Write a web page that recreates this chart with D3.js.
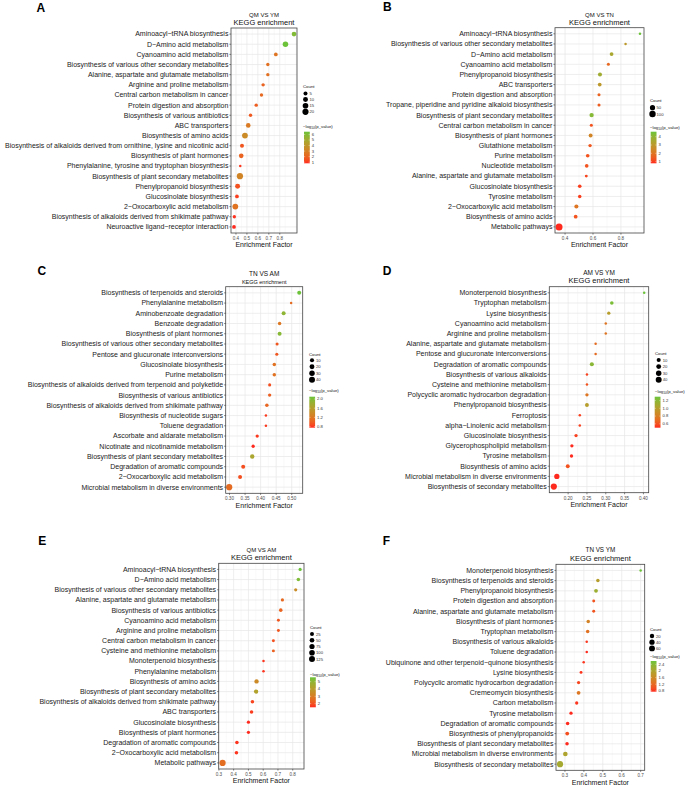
<!DOCTYPE html>
<html><head><meta charset="utf-8">
<script src="https://cdn.jsdelivr.net/npm/d3@7"></script>
<style>body{margin:0;background:#fff;} svg{display:block;font-family:"Liberation Sans",Arial,sans-serif;}</style>
</head><body><svg id="c" width="692" height="788"></svg>
<script>
// ---------------- DATA ----------------
const A_title = "QM VS YM";
const A_pathways = ["Aminoacyl−tRNA biosynthesis","D−Amino acid metabolism","Cyanoamino acid metabolism","Biosynthesis of various other secondary metabolites","Alanine, aspartate and glutamate metabolism","Arginine and proline metabolism","Central carbon metabolism in cancer","Protein digestion and absorption","Biosynthesis of various antibiotics","ABC transporters","Biosynthesis of amino acids","Biosynthesis of alkaloids derived from ornithine, lysine and nicotinic acid","Biosynthesis of plant hormones","Phenylalanine, tyrosine and tryptophan biosynthesis","Biosynthesis of plant secondary metabolites","Phenylpropanoid biosynthesis","Glucosinolate biosynthesis","2−Oxocarboxylic acid metabolism","Biosynthesis of alkaloids derived from shikimate pathway","Neuroactive ligand−receptor interaction"];
const A_factor = [0.930,0.852,0.764,0.691,0.691,0.648,0.633,0.585,0.533,0.512,0.482,0.455,0.448,0.439,0.436,0.415,0.409,0.394,0.385,0.382];
const A_count = [8,14,4,3,3,3,3,3,3,8,16,5,8,2,20,10,4,16,3,4];
const A_logp = [6.0,6.5,2.6,2.4,2.4,2.0,2.2,1.8,1.7,2.8,3.5,1.6,2.0,1.0,3.2,1.5,1.1,2.5,0.9,0.8];
const A_xTicks = [0.4,0.5,0.6,0.7,0.8];
const A_countBreaks = [5,10,15,20];
const A_colorBreaks = [1,2,3,4,5,6];

const B_title = "QM VS TN";
const B_pathways = ["Aminoacyl−tRNA biosynthesis","Biosynthesis of various other secondary metabolites","D−Amino acid metabolism","Cyanoamino acid metabolism","Phenylpropanoid biosynthesis","ABC transporters","Protein digestion and absorption","Tropane, piperidine and pyridine alkaloid biosynthesis","Biosynthesis of plant secondary metabolites","Central carbon metabolism in cancer","Biosynthesis of plant hormones","Glutathione metabolism","Purine metabolism","Nucleotide metabolism","Alanine, aspartate and glutamate metabolism","Glucosinolate biosynthesis","Tyrosine metabolism","2−Oxocarboxylic acid metabolism","Biosynthesis of amino acids","Metabolic pathways"];
const B_factor = [0.936,0.833,0.733,0.710,0.650,0.648,0.643,0.643,0.590,0.588,0.583,0.579,0.562,0.555,0.552,0.505,0.505,0.481,0.476,0.357];
const B_count = [4,4,14,6,19,14,6,6,25,6,16,9,12,12,5,12,10,19,14,130];
const B_logp = [4.6,3.0,3.5,1.7,3.7,3.0,1.6,1.5,4.2,1.3,2.4,1.4,1.3,1.3,1.1,1.0,1.0,2.0,1.3,0.8];
const B_xTicks = [0.4,0.6,0.8];
const B_countBreaks = [50,100];
const B_colorBreaks = [1,2,3,4];

const C_title = "TN VS AM";
const C_pathways = ["Biosynthesis of terpenoids and steroids","Phenylalanine metabolism","Aminobenzoate degradation","Benzoate degradation","Biosynthesis of plant hormones","Biosynthesis of various other secondary metabolites","Pentose and glucuronate interconversions","Glucosinolate biosynthesis","Purine metabolism","Biosynthesis of alkaloids derived from terpenoid and polyketide","Biosynthesis of various antibiotics","Biosynthesis of alkaloids derived from shikimate pathway","Biosynthesis of nucleotide sugars","Toluene degradation","Ascorbate and aldarate metabolism","Nicotinate and nicotinamide metabolism","Biosynthesis of plant secondary metabolites","Degradation of aromatic compounds","2−Oxocarboxylic acid metabolism","Microbial metabolism in diverse environments"];
const C_factor = [0.524,0.498,0.474,0.461,0.461,0.453,0.452,0.444,0.444,0.429,0.429,0.420,0.417,0.417,0.389,0.376,0.373,0.344,0.334,0.299];
const C_count = [9,2,9,5,9,3,3,5,5,3,4,5,2,2,4,4,13,9,9,45];
const C_logp = [2.1,1.1,1.9,1.2,1.95,0.95,0.95,1.15,1.15,0.9,1.0,1.05,0.8,0.8,0.8,0.75,1.7,0.9,0.9,1.1];
const C_xTicks = [0.30,0.35,0.40,0.45,0.50];
const C_countBreaks = [10,20,30,40];
const C_colorBreaks = [0.8,1.2,1.6,2.0];

const D_title = "AM VS YM";
const D_pathways = ["Monoterpenoid biosynthesis","Tryptophan metabolism","Lysine biosynthesis","Cyanoamino acid metabolism","Arginine and proline metabolism","Alanine, aspartate and glutamate metabolism","Pentose and glucuronate interconversions","Degradation of aromatic compounds","Biosynthesis of various alkaloids","Cysteine and methionine metabolism","Polycyclic aromatic hydrocarbon degradation","Phenylpropanoid biosynthesis","Ferroptosis","alpha−Linolenic acid metabolism","Glucosinolate biosynthesis","Glycerophospholipid metabolism","Tyrosine metabolism","Biosynthesis of amino acids","Microbial metabolism in diverse environments","Biosynthesis of secondary metabolites"];
const D_factor = [0.402,0.316,0.308,0.300,0.300,0.273,0.273,0.263,0.250,0.250,0.250,0.250,0.231,0.231,0.221,0.210,0.209,0.199,0.170,0.162];
const D_count = [2,6,4,2,2,2,2,10,2,2,4,8,2,2,4,4,4,8,26,45];
const D_logp = [1.3,1.25,1.0,0.75,0.75,0.7,0.7,1.2,0.55,0.6,0.75,1.0,0.55,0.55,0.55,0.5,0.5,0.6,0.5,0.5];
const D_xTicks = [0.20,0.25,0.30,0.35,0.40];
const D_countBreaks = [10,20,30,40];
const D_colorBreaks = [0.6,0.8,1.0,1.2];

const E_title = "QM VS AM";
const E_pathways = ["Aminoacyl−tRNA biosynthesis","D−Amino acid metabolism","Biosynthesis of various other secondary metabolites","Alanine, aspartate and glutamate metabolism","Biosynthesis of various antibiotics","Cyanoamino acid metabolism","Arginine and proline metabolism","Central carbon metabolism in cancer","Cysteine and methionine metabolism","Monoterpenoid biosynthesis","Phenylalanine metabolism","Biosynthesis of amino acids","Biosynthesis of plant secondary metabolites","Biosynthesis of alkaloids derived from shikimate pathway","ABC transporters","Glucosinolate biosynthesis","Biosynthesis of plant hormones","Degradation of aromatic compounds","2−Oxocarboxylic acid metabolism","Metabolic pathways"];
const E_factor = [0.850,0.838,0.820,0.730,0.719,0.703,0.703,0.669,0.669,0.602,0.602,0.555,0.552,0.527,0.521,0.500,0.500,0.422,0.419,0.325];
const E_count = [8,14,8,8,14,5,5,5,5,3,3,37,37,14,14,8,8,14,14,140];
const E_logp = [5.6,5.3,3.5,2.5,2.4,2.1,2.1,2.0,2.3,1.6,1.6,3.4,4.2,1.8,1.7,1.5,1.5,1.6,1.6,2.6];
const E_xTicks = [0.3,0.4,0.5,0.6,0.7,0.8];
const E_countBreaks = [25,50,75,100,125];
const E_colorBreaks = [2,3,4,5];

const F_title = "TN VS YM";
const F_pathways = ["Monoterpenoid biosynthesis","Biosynthesis of terpenoids and steroids","Phenylpropanoid biosynthesis","Protein digestion and absorption","Alanine, aspartate and glutamate metabolism","Biosynthesis of plant hormones","Tryptophan metabolism","Biosynthesis of various alkaloids","Toluene degradation","Ubiquinone and other terpenoid−quinone biosynthesis","Lysine biosynthesis","Polycyclic aromatic hydrocarbon degradation","Cremeomycin biosynthesis","Carbon metabolism","Tyrosine metabolism","Degradation of aromatic compounds","Biosynthesis of phenylpropanoids","Biosynthesis of plant secondary metabolites","Microbial metabolism in diverse environments","Biosynthesis of secondary metabolites"];
const F_factor = [0.700,0.474,0.464,0.452,0.452,0.423,0.420,0.415,0.415,0.399,0.385,0.372,0.372,0.362,0.332,0.314,0.312,0.311,0.302,0.274];
const F_count = [2,7,10,3,3,7,7,2,2,2,3,5,10,5,5,7,10,7,24,70];
const F_logp = [2.6,1.9,2.2,1.0,1.0,1.5,1.3,0.8,0.75,0.8,0.8,0.9,1.35,0.8,0.75,0.75,0.95,0.75,2.0,2.1];
const F_xTicks = [0.3,0.4,0.5,0.6,0.7];
const F_countBreaks = [20,40,60];
const F_colorBreaks = [0.8,1.2,1.6,2.0,2.4];

// ---------------- DRAW ----------------
const LOW = "#FF2A1E", HIGH = "#6CC33A";
const svg = d3.select("#c");
svg.append("rect").attr("width",692).attr("height",788).attr("fill","#fff");

const panels = [
 {tag:"A", title:A_title, pathways:A_pathways, factor:A_factor, count:A_count, logp:A_logp, xTicks:A_xTicks, countBreaks:A_countBreaks, colorBreaks:A_colorBreaks, dec:1,
  L:{x0:231,x1:297,y0:28,y1:233, tagX:36.5,tagY:11.5, t1:16.5,t2:25, t1s:6,t2s:7.5, legX:303, cntY:87.5, dotX:305.5, dotY0:93.5, dotStep:6.1, cbTitleY:127.5, cbX:304, cbY0:131.7, cbY1:163.3}},
 {tag:"B", title:B_title, pathways:B_pathways, factor:B_factor, count:B_count, logp:B_logp, xTicks:B_xTicks, countBreaks:B_countBreaks, colorBreaks:B_colorBreaks, dec:1,
  L:{x0:555,x1:644,y0:27.7,y1:233, tagX:383,tagY:10.5, t1:16.5,t2:25, t1s:6,t2s:7.5, legX:650, cntY:102, dotX:652.5, dotY0:107.7, dotStep:6.3, cbTitleY:128.5, cbX:650.7, cbY0:131.7, cbY1:163.3, rmax:3.5}},
 {tag:"C", title:C_title, pathways:C_pathways, factor:C_factor, count:C_count, logp:C_logp, xTicks:C_xTicks, countBreaks:C_countBreaks, colorBreaks:C_colorBreaks, dec:2,
  L:{x0:225.7,x1:302.7,y0:286.7,y1:493.3, tagX:37.5,tagY:274.5, t1:276.3,t2:283.8, t1s:6.5,t2s:5.5, legX:309, cntY:355.8, dotX:312, dotY0:360.3, dotStep:6.45, cbTitleY:391.5, cbX:309.3, cbY0:396.7, cbY1:427.7}},
 {tag:"D", title:D_title, pathways:D_pathways, factor:D_factor, count:D_count, logp:D_logp, xTicks:D_xTicks, countBreaks:D_countBreaks, colorBreaks:D_colorBreaks, dec:2,
  L:{x0:549.3,x1:648.7,y0:286.7,y1:492.7, tagX:382.7,tagY:274.5, t1:274.5,t2:283.3, t1s:6.5,t2s:7.5, legX:655, cntY:355.3, dotX:658.7, dotY0:360, dotStep:6.6, cbTitleY:392.5, cbX:654.7, cbY0:396.7, cbY1:427.7}},
 {tag:"E", title:E_title, pathways:E_pathways, factor:E_factor, count:E_count, logp:E_logp, xTicks:E_xTicks, countBreaks:E_countBreaks, colorBreaks:E_colorBreaks, dec:1,
  L:{x0:218.7,x1:304,y0:563.3,y1:769, tagX:38.3,tagY:544.5, t1:551.6,t2:560, t1s:6,t2s:7.5, legX:310, cntY:629.2, dotX:312, dotY0:634, dotStep:6.25, cbTitleY:675.5, cbX:310, cbY0:677.3, cbY1:707.3}},
 {tag:"F", title:F_title, pathways:F_pathways, factor:F_factor, count:F_count, logp:F_logp, xTicks:F_xTicks, countBreaks:F_countBreaks, colorBreaks:F_colorBreaks, dec:1,
  L:{x0:556,x1:644.7,y0:564.3,y1:770.3, tagX:382.7,tagY:544.5, t1:552.3,t2:561.3, t1s:6.3,t2s:7.5, legX:650, cntY:630.5, dotX:652, dotY0:636, dotStep:6.2, cbTitleY:658.2, cbX:650.7, cbY0:661, cbY1:691.7}}
];

function drawPanel(P){
  const L = P.L;
  const g = svg.append("g");
  const ext = d3.extent(P.factor), pad = (ext[1]-ext[0])*0.05;
  const x = d3.scaleLinear().domain([ext[0]-pad, ext[1]+pad]).range([L.x0, L.x1]);
  const y = d3.scalePoint().domain(P.pathways).range([L.y0, L.y1]).padding(0.6);
  const color = d3.scaleLinear().domain(d3.extent(P.logp)).range([LOW, HIGH]).interpolate(d3.interpolateLab);
  const norm = d3.scaleLinear().domain(d3.extent(P.count)).range([0,1]).clamp(true);
  const rad = d3.scaleLinear().domain([0,1]).range([1.25, L.rmax || 3.1]);
  const r = c => rad(Math.sqrt(norm(c)));

  g.append("text").attr("x",L.tagX).attr("y",L.tagY).attr("font-size",12).attr("font-weight","bold").attr("fill","#000").text(P.tag);
  const cx = (L.x0+L.x1)/2;
  g.append("text").attr("x",cx).attr("y",L.t1).attr("text-anchor","middle").attr("font-size",L.t1s).attr("fill","#111").text(P.title);
  g.append("text").attr("x",cx).attr("y",L.t2).attr("text-anchor","middle").attr("font-size",L.t2s).attr("fill","#111").text("KEGG enrichment");

  g.append("rect").attr("x",L.x0).attr("y",L.y0).attr("width",L.x1-L.x0).attr("height",L.y1-L.y0).attr("fill","#fff");
  const dom = x.domain(), step = P.xTicks[1]-P.xTicks[0];
  const minors = [];
  for (let k=-3;k<P.xTicks.length+3;k++){ const v = P.xTicks[0] + (k+0.5)*step; if (v>dom[0] && v<dom[1]) minors.push(v); }
  g.selectAll(null).data(minors).join("line").attr("x1",d=>x(d)).attr("x2",d=>x(d)).attr("y1",L.y0).attr("y2",L.y1).attr("stroke","#EEEEEE").attr("stroke-width",0.35);
  g.selectAll(null).data(P.xTicks).join("line").attr("x1",d=>x(d)).attr("x2",d=>x(d)).attr("y1",L.y0).attr("y2",L.y1).attr("stroke","#E6E6E6").attr("stroke-width",0.7);
  g.selectAll(null).data(P.pathways).join("line").attr("x1",L.x0).attr("x2",L.x1).attr("y1",d=>y(d)).attr("y2",d=>y(d)).attr("stroke","#E6E6E6").attr("stroke-width",0.7);

  const pts = P.pathways.map((p,i)=>({p, f:P.factor[i], c:P.count[i], v:P.logp[i]}));
  g.selectAll(null).data(pts).join("circle").attr("cx",d=>x(d.f)).attr("cy",d=>y(d.p)).attr("r",d=>r(d.c)).attr("fill",d=>color(d.v));

  g.append("rect").attr("x",L.x0).attr("y",L.y0).attr("width",L.x1-L.x0).attr("height",L.y1-L.y0).attr("fill","none").attr("stroke","#444").attr("stroke-width",0.8);

  g.selectAll(null).data(P.pathways).join("line").attr("x1",L.x0-1.6).attr("x2",L.x0).attr("y1",d=>y(d)).attr("y2",d=>y(d)).attr("stroke","#333").attr("stroke-width",0.6);
  g.selectAll(null).data(P.pathways).join("text").attr("x",L.x0-2.6).attr("y",d=>y(d)+2.4).attr("text-anchor","end").attr("font-size",7).attr("fill","#1a1a1a").text(d=>d);

  const fmt = d3.format("."+P.dec+"f");
  g.selectAll(null).data(P.xTicks).join("line").attr("x1",d=>x(d)).attr("x2",d=>x(d)).attr("y1",L.y1).attr("y2",L.y1+1.6).attr("stroke","#333").attr("stroke-width",0.6);
  g.selectAll(null).data(P.xTicks).join("text").attr("x",d=>x(d)).attr("y",L.y1+7).attr("text-anchor","middle").attr("font-size",4.6).attr("fill","#4d4d4d").text(d=>fmt(d));
  g.append("text").attr("x",cx).attr("y",L.y1+14.3).attr("text-anchor","middle").attr("font-size",7).attr("fill","#111").text("Enrichment Factor");

  g.append("text").attr("x",L.legX).attr("y",L.cntY).attr("font-size",4.3).attr("fill","#111").text("Count");
  P.countBreaks.forEach((b,i)=>{
    const yy = L.dotY0 + i*L.dotStep;
    g.append("circle").attr("cx",L.dotX).attr("cy",yy).attr("r",r(b)).attr("fill","#000");
    g.append("text").attr("x",L.dotX+4).attr("y",yy+1.5).attr("font-size",4.2).attr("fill","#333").text(b);
  });

  const ct = g.append("text").attr("x",L.legX).attr("y",L.cbTitleY).attr("font-size",4.3).attr("fill","#111");
  ct.append("tspan").text("−log");
  ct.append("tspan").attr("font-size",3.2).attr("dy",1).text("10");
  ct.append("tspan").attr("dy",-1).text("(p_value)");
  const gid = "grad"+P.tag;
  const grad = svg.append("defs").append("linearGradient").attr("id",gid).attr("x1",0).attr("y1",1).attr("x2",0).attr("y2",0);
  const cd = color.domain();
  d3.range(0,1.0001,0.1).forEach(t=>{ grad.append("stop").attr("offset",t).attr("stop-color",color(cd[0]+t*(cd[1]-cd[0]))); });
  const cbW = 5.8;
  g.append("rect").attr("x",L.cbX).attr("y",L.cbY0).attr("width",cbW).attr("height",L.cbY1-L.cbY0).attr("fill","url(#"+gid+")");
  const cy = d3.scaleLinear().domain(cd).range([L.cbY1, L.cbY0]);
  P.colorBreaks.forEach(b=>{
    const yy = cy(b);
    g.append("line").attr("x1",L.cbX).attr("x2",L.cbX+1.2).attr("y1",yy).attr("y2",yy).attr("stroke","#fff").attr("stroke-width",0.4);
    g.append("line").attr("x1",L.cbX+cbW-1.2).attr("x2",L.cbX+cbW).attr("y1",yy).attr("y2",yy).attr("stroke","#fff").attr("stroke-width",0.4);
    g.append("text").attr("x",L.cbX+cbW+2).attr("y",yy+1.4).attr("font-size",4.2).attr("fill","#333").text(d3.format(P.dec===2||b%1!==0?".1f":"d")(b));
  });
}
panels.forEach(drawPanel);
</script></body></html>
